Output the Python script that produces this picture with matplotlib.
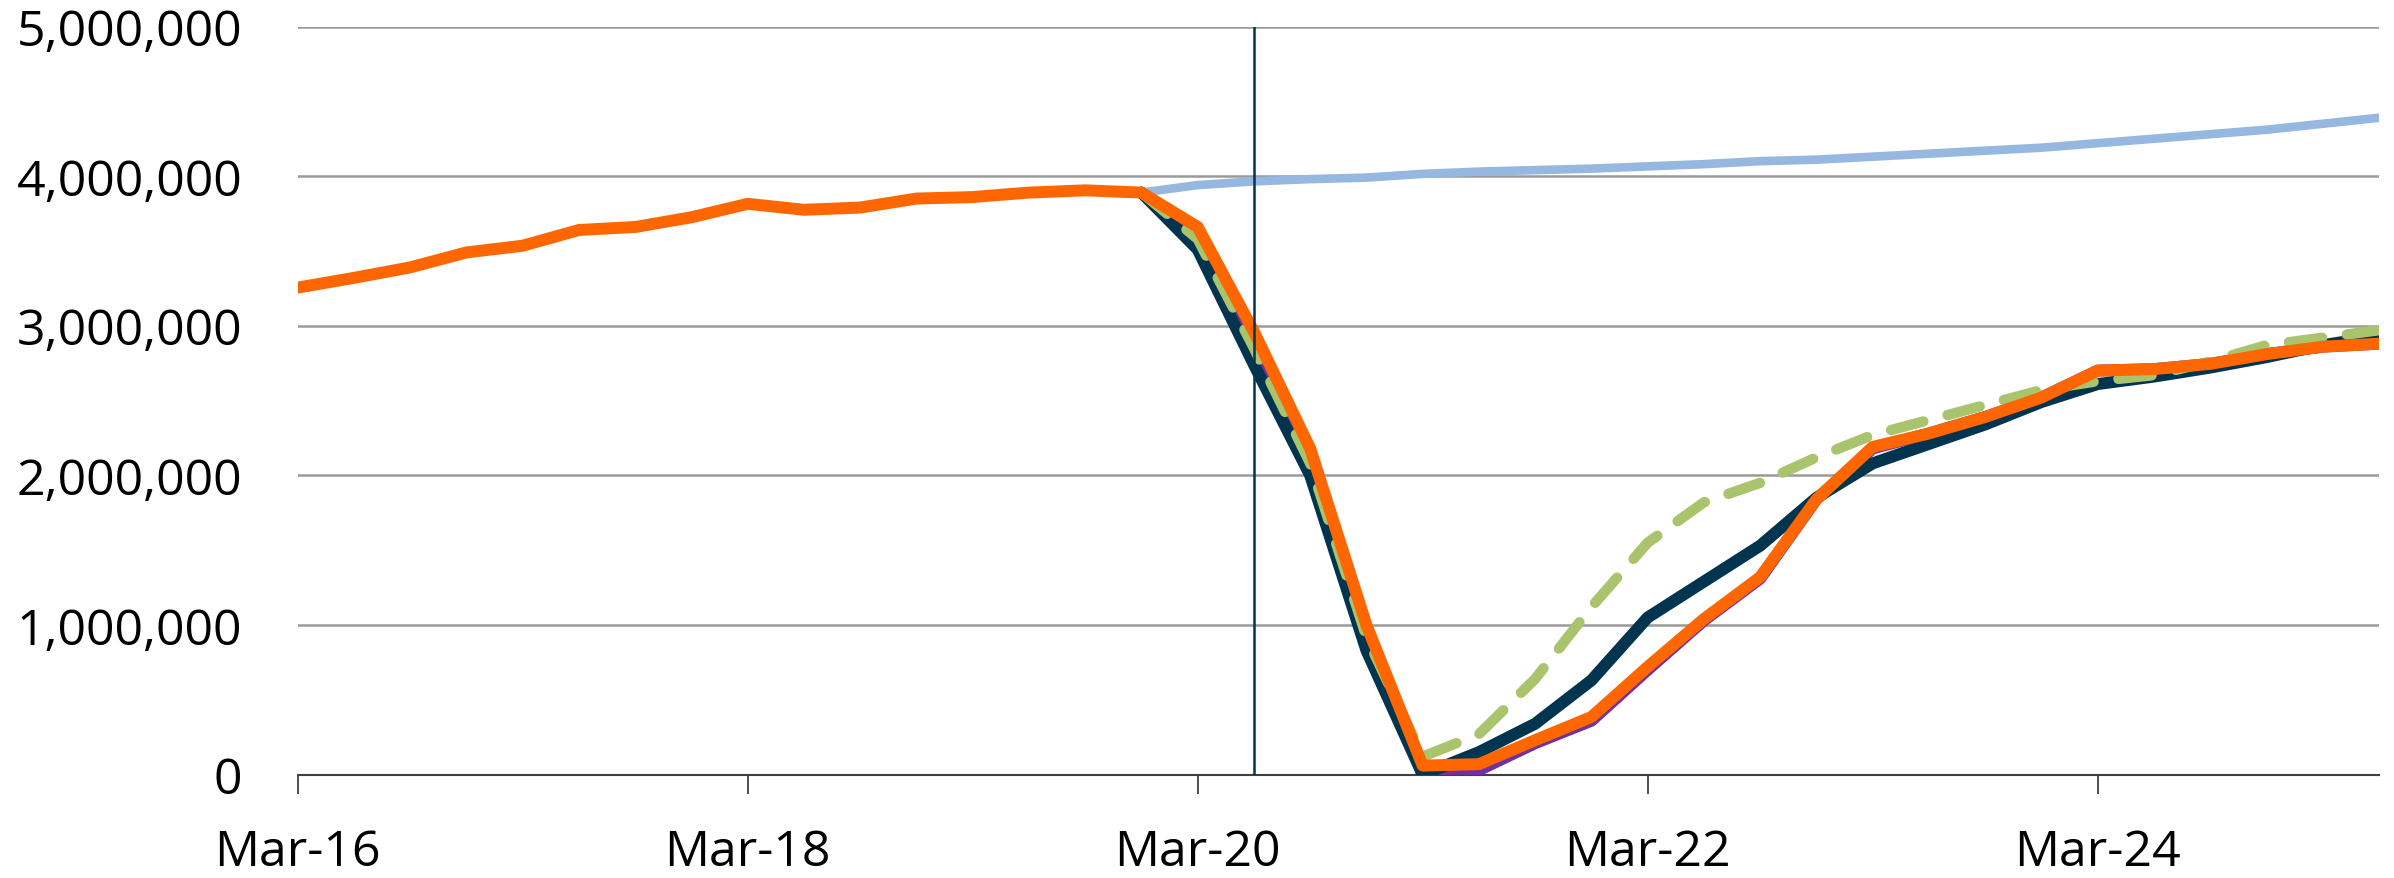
import matplotlib.pyplot as plt
from matplotlib.ticker import FuncFormatter
import numpy as np

plt.rcParams['font.family'] = ['Open Sans', 'DejaVu Sans']

# quarterly points, Mar-16 .. Jun-25 (index 0..37)
n_q = 38
tick_pos = [0, 8, 16, 24, 32]
tick_labels = ['Mar-16', 'Mar-18', 'Mar-20', 'Mar-22', 'Mar-24']
marker_q = 17  # Jun-20

# millions
actual = [3.255, 3.32, 3.39, 3.49, 3.535, 3.64, 3.66, 3.725, 3.815, 3.775,
          3.79, 3.85, 3.86, 3.89, 3.905, 3.89, 3.66, 2.96, 2.18, 1.0,
          0.06, 0.07, 0.23, 0.385, 0.72, 1.04, 1.32, 1.84, 2.19, 2.28,
          2.39, 2.52, 2.70, 2.71, 2.745, 2.81, 2.86, 2.88]
# series below start at index 15
precovid = [3.89, 3.94, 3.965, 3.98, 3.99, 4.015, 4.03, 4.04, 4.05, 4.065,
            4.08, 4.10, 4.11, 4.13, 4.15, 4.17, 4.19, 4.22, 4.25, 4.28,
            4.31, 4.35, 4.39]
scen_navy = [3.89, 3.51, 2.74, 2.0, 0.83, 0.0, 0.15, 0.34, 0.63, 1.05,
             1.29, 1.53, 1.85, 2.08, 2.21, 2.34, 2.49, 2.61, 2.66, 2.72,
             2.79, 2.87, 2.93]
scen_green = [3.89, 3.58, 2.85, 2.08, 0.92, 0.12, 0.27, 0.64, 1.12, 1.55,
              1.82, 1.95, 2.12, 2.27, 2.37, 2.47, 2.57, 2.63, 2.67, 2.76,
              2.87, 2.92, 2.97]
scen_purple = [3.89, 3.60, 2.90, 2.10, 0.95, 0.0, 0.03, 0.21, 0.36, 0.70,
               1.03, 1.31, 1.84, 2.18, 2.28, 2.39, 2.52, 2.70, 2.71, 2.745,
               2.81, 2.86, 2.88]

x_all = np.arange(n_q)
x_fc = np.arange(15, n_q)

W, H = 2394, 879
fig = plt.figure(figsize=(W / 100, H / 100), dpi=100)
ax = fig.add_axes([297.7 / W, 1 - 775.6 / H, (2378.9 - 297.7) / W, (775.6 - 27.5) / H])

ax.plot(x_fc, np.array(precovid) * 1e6, color='#95b7e0', lw=6.2, solid_capstyle='round', zorder=3)
ax.plot(x_fc, np.array(scen_purple) * 1e6, color='#7030a0', lw=8.6, solid_capstyle='round', zorder=4)
ax.plot(x_fc, np.array(scen_navy) * 1e6, color='#00344f', lw=8.6, solid_capstyle='round', zorder=5)
ax.plot(x_fc, np.array(scen_green) * 1e6, color='#a9c46c', lw=7.5, ls=(0, (3.2, 2.4)),
        dash_capstyle='round', zorder=6)
ax.plot(x_all, np.array(actual) * 1e6, color='#ff6600', lw=8.6, solid_capstyle='round', zorder=7)

ax.axvline(marker_q, color='#00344f', lw=1.8, zorder=8)

ax.set_xlim(0, n_q - 1)
ax.set_ylim(0, 5e6)
ax.set_yticks(np.arange(0, 5e6 + 1, 1e6))
ax.yaxis.set_major_formatter(FuncFormatter(lambda v, p: f'{v:,.0f}'))
ax.set_xticks(tick_pos)
ax.set_xticklabels(tick_labels)

ax.grid(axis='y', color='#9a9a9a', lw=1.8, zorder=0)
ax.set_axisbelow(True)
for side in ['top', 'right', 'left']:
    ax.spines[side].set_visible(False)
ax.spines['bottom'].set_color('#404040')
ax.spines['bottom'].set_linewidth(1.5)
ax.spines['bottom'].set_zorder(2)

ax.tick_params(axis='y', length=0, pad=40, labelsize=36, labelcolor='black')
ax.tick_params(axis='x', length=14, width=1.3, color='#404040', pad=24,
               labelsize=36, labelcolor='black')

fig.savefig('out.png', dpi=100, facecolor='white')
